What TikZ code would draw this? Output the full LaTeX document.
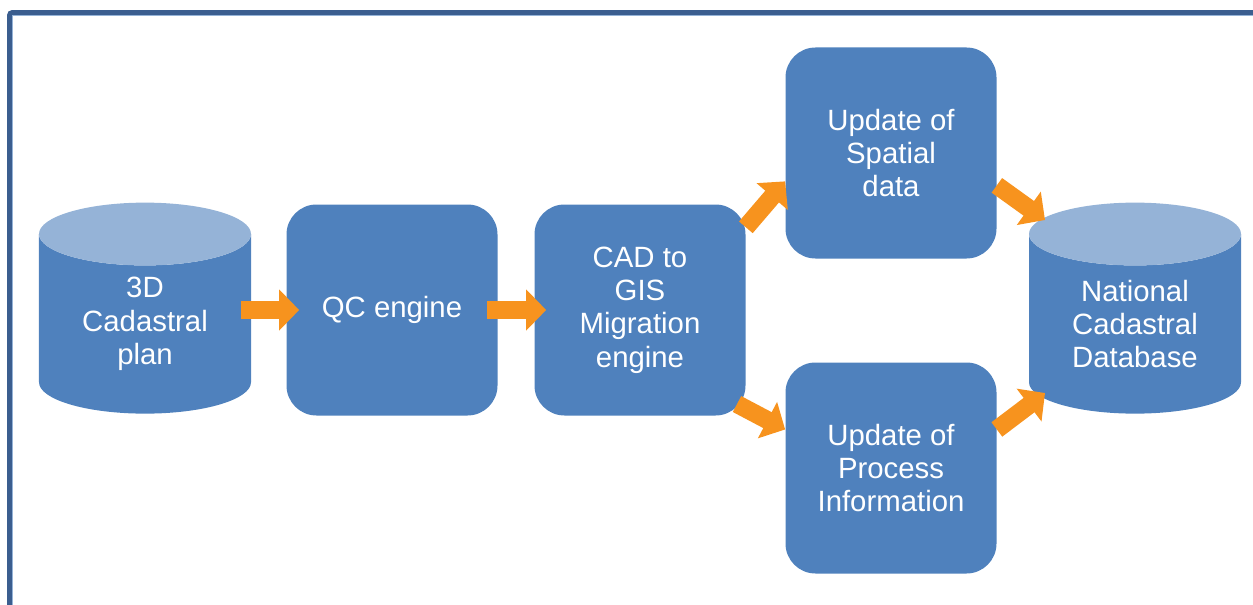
\documentclass[tikz,border=0pt]{standalone}
\usepackage{fontspec}
\setmainfont{Liberation Sans}
\usetikzlibrary{shapes.geometric,arrows.meta}
\definecolor{boxblue}{HTML}{4F81BD}
\definecolor{topblue}{HTML}{95B3D7}
\definecolor{flow}{HTML}{F7931E}
\definecolor{frameblue}{HTML}{3B5E8F}
\tikzset{
  stage/.style={rectangle, rounded corners=6mm, fill=boxblue, text=white,
    minimum width=42.2mm, minimum height=42.2mm, align=center,
    font=\fontsize{16.7}{19}\selectfont},
  store/.style={cylinder, shape border rotate=90, aspect=0.5,
    cylinder uses custom fill, cylinder body fill=boxblue,
    cylinder end fill=topblue, text=white, minimum width=42.4mm,
    minimum height=42.2mm, align=center, inner sep=0pt,
    font=\fontsize{16.7}{19}\selectfont},
  flowarrow/.style={draw=flow, line width=3.6mm,
    -{Triangle[length=4mm,width=8mm]}}
}
\begin{document}
\begin{tikzpicture}[x=0.2mm,y=-0.2mm]
    \useasboundingbox (0,0) rectangle (1253,604);
    \draw[frameblue, line width=1mm, rounded corners=0.6mm] (9.5,12.5) rectangle (1300,660);
    \draw[topblue, line width=0.2mm] (12.5,660) -- (12.5,15.5) -- (1300,15.5);

    \node[store] (plan) at (145,324) {3D\\Cadastral\\plan};
    \node[stage] (qc) at (392,310) {QC engine};
    \node[stage] (cad) at (640,310) {CAD to\\GIS\\Migration\\engine};
    \node[stage] (spatial) at (891,153) {Update of\\Spatial\\data};
    \node[stage] (process) at (891,468) {Update of\\Process\\Information};
    \node[store] (ncdb) at (1135,324) {National\\Cadastral\\Database};

    \coordinate (ncdbtop) at (1045,220);
    \coordinate (ncdbbot) at (1045,393);

    \draw[flowarrow, shorten <=-2mm, shorten >=-2.6mm] (plan.east |- qc.west) -- (qc.west);
    \draw[flowarrow, shorten <=-2.2mm, shorten >=-2.4mm] (qc.east) -- (cad.west);
    \draw[flowarrow] (cad.38) -- (spatial.195);
    \draw[flowarrow, shorten <=-2mm] (cad.-43) -- (process.160);
    \draw[flowarrow] (spatial.-17) -- (ncdbtop);
    \draw[flowarrow] (process.20) -- (ncdbbot);
\end{tikzpicture}
\end{document}
